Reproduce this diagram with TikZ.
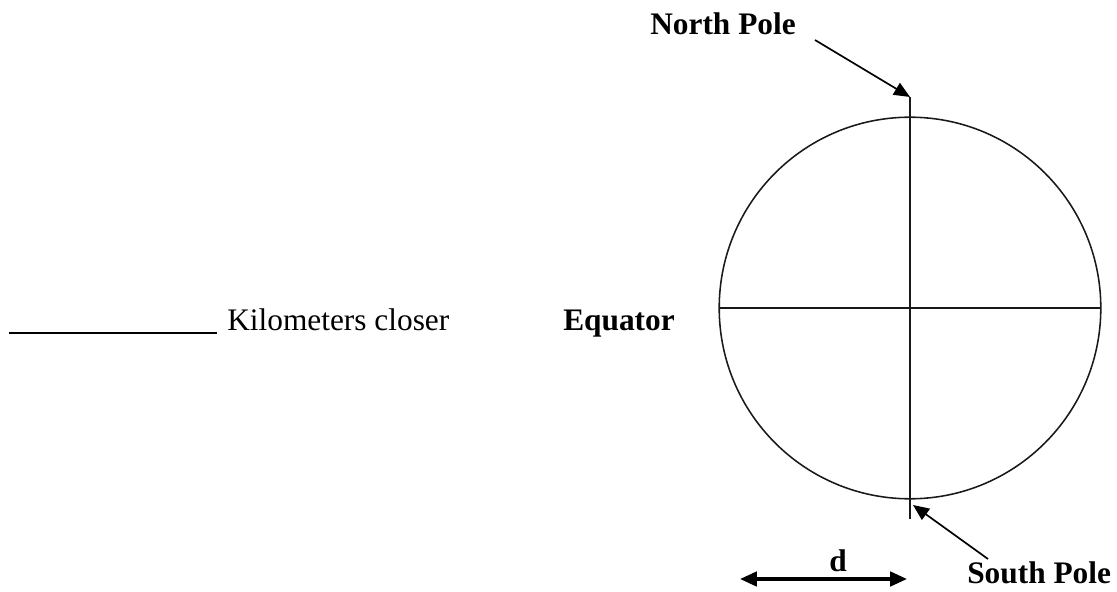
\documentclass[tikz,border=0pt]{standalone}
\usepackage{fontspec}
\setmainfont{Liberation Serif}
\usetikzlibrary{arrows.meta}
\newcommand{\lblfont}{\fontsize{22.3}{26}\selectfont}

\begin{document}
\begin{tikzpicture}[
  font=\lblfont,
  thin line/.style={line width=1.1pt, draw=black!90},
  pointer/.style={-{Triangle[length=4mm, width=3.4mm]}, line width=1.2pt},
  span/.style={{Triangle[length=4.2mm, width=3.6mm]}-{Triangle[length=4.2mm, width=3.6mm]}, line width=2.3pt},
  label/.style={font=\lblfont\bfseries, inner sep=0pt}
]
\useasboundingbox (0,0) rectangle (27.925,14.775);

% globe
\coordinate (centre) at (22.75,7.075);
\draw[thin line] (centre) circle (4.77);
\coordinate (westpt) at (17.98,7.075);
\coordinate (eastpt) at (27.52,7.075);
\coordinate (npole) at (22.75,12.35);
\coordinate (spole) at (22.75,1.8);
\draw[thin line] (npole) -- (spole);
\draw[thin line] (westpt) -- (eastpt);

% labels
\node[label, anchor=base] (northlbl) at (18.075,13.9) {North Pole};
\node[label, anchor=base west] (southlbl) at (24.175,0.2) {South Pole};
\node[label, anchor=base west] (equator) at (14.075,6.525) {Equator};
\node[label, anchor=base] (dlbl) at (20.95,0.5) {d};

\coordinate (nstart) at (20.375,13.775);
\coordinate (ntip) at (22.75,12.35);
\coordinate (sstart) at (24.7,0.8);
\coordinate (stip) at (22.825,2.15);
\draw[pointer] (nstart) -- (ntip);
\draw[pointer] (sstart) -- (stip);

\coordinate (dleft) at (18.5,0.3);
\coordinate (dright) at (22.675,0.3);
\draw[span] (dleft) -- (dright);

% answer blank
\coordinate (blankl) at (0.225,6.45);
\coordinate (blankr) at (5.425,6.45);
\draw[line width=1.4pt] (blankl) -- (blankr);
\node[anchor=base west, inner sep=0pt] (closer) at (5.675,6.525) {Kilometers closer};

\end{tikzpicture}
\end{document}
